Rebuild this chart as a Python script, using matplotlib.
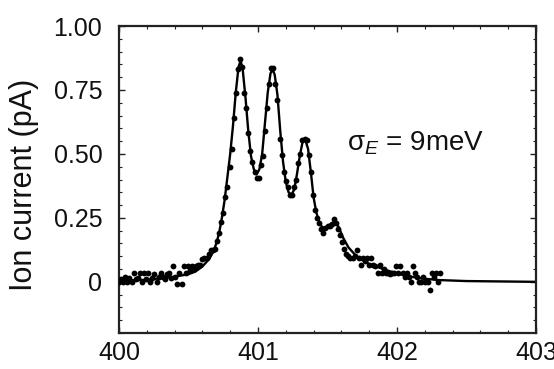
import matplotlib
matplotlib.use("Agg")
import matplotlib.pyplot as plt
from matplotlib.ticker import MultipleLocator, FixedLocator, FixedFormatter

plt.rcParams['font.family'] = ['Liberation Sans', 'DejaVu Sans']
plt.rcParams['mathtext.fontset'] = 'custom'
plt.rcParams['mathtext.rm'] = 'Liberation Sans'
plt.rcParams['mathtext.it'] = 'Liberation Sans:italic'

# measured points (energy in eV, ion current in pA)
x_pts = [400.000, 400.015, 400.030, 400.045, 400.060, 400.075, 400.090, 400.105, 400.120, 400.135,
         400.150, 400.165, 400.180, 400.195, 400.210, 400.225, 400.240, 400.255, 400.270, 400.285,
         400.300, 400.315, 400.330, 400.345, 400.360, 400.375, 400.390, 400.405, 400.420, 400.435,
         400.450, 400.465, 400.480, 400.495, 400.510, 400.525, 400.540, 400.555, 400.570, 400.585,
         400.600, 400.615, 400.630, 400.645, 400.660, 400.675, 400.690, 400.705, 400.720, 400.735,
         400.750, 400.765, 400.780, 400.795, 400.810, 400.825, 400.840, 400.855, 400.870, 400.885,
         400.900, 400.915, 400.930, 400.945, 400.960, 400.975, 400.990, 401.005, 401.020, 401.035,
         401.050, 401.065, 401.080, 401.095, 401.110, 401.125, 401.140, 401.155, 401.170, 401.185,
         401.200, 401.215, 401.230, 401.245, 401.260, 401.275, 401.290, 401.305, 401.320, 401.335,
         401.350, 401.365, 401.380, 401.395, 401.410, 401.425, 401.440, 401.455, 401.470, 401.485,
         401.500, 401.515, 401.530, 401.545, 401.560, 401.575, 401.590, 401.605, 401.620, 401.635,
         401.650, 401.665, 401.680, 401.695, 401.710, 401.725, 401.740, 401.755, 401.770, 401.785,
         401.800, 401.815, 401.830, 401.845, 401.860, 401.875, 401.890, 401.905, 401.920, 401.935,
         401.950, 401.965, 401.980, 401.995, 402.010, 402.025, 402.040, 402.055, 402.070, 402.085,
         402.100, 402.115, 402.130, 402.145, 402.160, 402.175, 402.190, 402.205, 402.220, 402.235,
         402.250, 402.265, 402.280, 402.295, 402.310]
y_pts = [0.000, 0.010, 0.000, 0.020, 0.000, 0.015, 0.000, 0.035, 0.010, 0.015,
         0.035, 0.000, 0.035, 0.010, 0.035, 0.000, 0.015, 0.030, 0.000, 0.020,
         0.035, 0.020, 0.010, 0.030, 0.035, 0.015, 0.060, 0.020, -0.010, 0.035,
         -0.010, 0.060, 0.035, 0.060, 0.045, 0.060, 0.050, 0.060, 0.065, 0.065,
         0.090, 0.095, 0.095, 0.110, 0.125, 0.125, 0.130, 0.160, 0.190, 0.235,
         0.270, 0.330, 0.370, 0.450, 0.520, 0.640, 0.740, 0.830, 0.870, 0.840,
         0.740, 0.680, 0.580, 0.510, 0.470, 0.430, 0.405, 0.405, 0.455, 0.490,
         0.590, 0.680, 0.775, 0.835, 0.835, 0.775, 0.710, 0.560, 0.495, 0.430,
         0.395, 0.370, 0.340, 0.340, 0.370, 0.400, 0.465, 0.500, 0.555, 0.560,
         0.555, 0.495, 0.430, 0.340, 0.280, 0.250, 0.230, 0.205, 0.190, 0.210,
         0.220, 0.220, 0.225, 0.245, 0.230, 0.205, 0.185, 0.155, 0.130, 0.110,
         0.100, 0.095, 0.095, 0.100, 0.125, 0.095, 0.065, 0.095, 0.080, 0.095,
         0.065, 0.095, 0.065, 0.060, 0.035, 0.065, 0.035, 0.050, 0.035, 0.035,
         0.030, 0.035, 0.035, 0.060, 0.035, 0.060, 0.035, 0.020, 0.035, 0.020,
         0.000, 0.060, 0.035, 0.020, 0.000, 0.000, 0.020, 0.000, 0.000, -0.030,
         0.035, 0.020, 0.035, 0.000, 0.035]

# fitted curve
x_fit = [400.00, 400.20, 400.40, 400.50, 400.55, 400.60, 400.65, 400.68, 400.70, 400.72,
         400.74, 400.76, 400.78, 400.80, 400.82, 400.84, 400.86, 400.875, 400.89, 400.91,
         400.93, 400.95, 400.97, 400.99, 401.01, 401.03, 401.05, 401.07, 401.09, 401.105,
         401.12, 401.14, 401.16, 401.18, 401.20, 401.22, 401.24, 401.26, 401.28, 401.30,
         401.32, 401.34, 401.36, 401.38, 401.40, 401.42, 401.44, 401.46, 401.48, 401.50,
         401.52, 401.55, 401.58, 401.61, 401.65, 401.70, 401.75, 401.80, 401.90, 402.00,
         402.10, 402.20, 402.30, 402.50, 403.00]
y_fit = [0.005, 0.008, 0.020, 0.030, 0.040, 0.060, 0.090, 0.120, 0.150, 0.190,
         0.250, 0.320, 0.410, 0.500, 0.610, 0.740, 0.840, 0.865, 0.830, 0.720,
         0.590, 0.490, 0.440, 0.420, 0.440, 0.500, 0.620, 0.740, 0.815, 0.830,
         0.810, 0.730, 0.590, 0.470, 0.390, 0.350, 0.340, 0.360, 0.420, 0.490,
         0.545, 0.555, 0.520, 0.430, 0.330, 0.270, 0.235, 0.215, 0.210, 0.215,
         0.225, 0.235, 0.215, 0.175, 0.135, 0.105, 0.085, 0.070, 0.050, 0.032,
         0.020, 0.012, 0.007, 0.003, 0.000]

y_ticks = [0.0, 0.25, 0.5, 0.75, 1.0]
y_tick_labels = ['0', '0.25', '0.50', '0.75', '1.00']
x_ticks = [400, 401, 402, 403]
x_tick_labels = ['400', '401', '402', '403']

fig = plt.figure(figsize=(5.54, 3.69), dpi=100)
ax = fig.add_axes([119/554, 1-333/369, (536-119)/554, (333-26)/369])

ax.plot(x_fit, y_fit, color='black', lw=1.7, zorder=2)
ax.plot(x_pts, y_pts, 'o', color='black', ms=4.2, mew=0, zorder=3)

ax.set_xlim(400, 403)
ax.set_ylim(-0.2, 1.0)
ax.xaxis.set_major_locator(FixedLocator(x_ticks))
ax.xaxis.set_major_formatter(FixedFormatter(x_tick_labels))
ax.xaxis.set_minor_locator(MultipleLocator(0.2))
ax.yaxis.set_major_locator(FixedLocator(y_ticks))
ax.yaxis.set_major_formatter(FixedFormatter(y_tick_labels))
ax.yaxis.set_minor_locator(MultipleLocator(0.05))

ax.tick_params(which='both', direction='in', top=True, right=True, colors='#222222')
ax.tick_params(which='major', length=4, width=1.0, labelsize=18, labelcolor='#111111')
ax.tick_params(which='minor', length=2.5, width=0.8)
ax.tick_params(axis='y', which='major', pad=12)
ax.tick_params(axis='x', which='major', pad=6)
for s in ax.spines.values():
    s.set_linewidth(1.6)
    s.set_color('#222222')

fig.text(24/554, 1-185/369, 'Ion current (pA)', rotation=90, ha='center', va='center',
         fontsize=22, color='#111111')

ax.text(401.64, 0.515, r'$\mathrm{\sigma}_{E}$' + ' = 9meV', fontsize=20, color='#111111',
        ha='left', va='baseline')

fig.savefig('out.png', dpi=100)
